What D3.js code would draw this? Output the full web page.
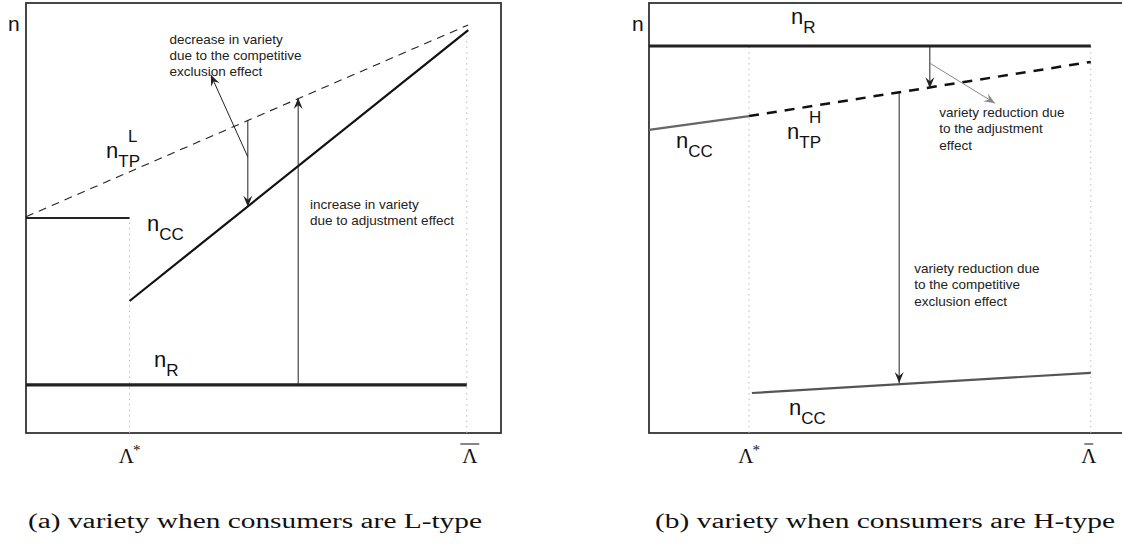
<!DOCTYPE html>
<html><head><meta charset="utf-8">
<script src="https://cdn.jsdelivr.net/npm/d3@7"></script>
<style>
html,body{margin:0;padding:0;background:#fff;}
svg{display:block;}
.ann{font-family:"Liberation Sans",Arial,sans-serif;font-size:13.5px;fill:#222;}
.lab{font-family:"Liberation Sans",Arial,sans-serif;fill:#111;}
.ser{font-family:"Liberation Serif","DejaVu Serif",serif;fill:#111;}
</style></head>
<body>
<svg id="c" width="1122" height="544"></svg>
<script>
// ---------- data (conceptual units) ----------
// Panel (a): L-type consumers
const xTicksA = ["Λ*", "Λ̄"];
const lambdaA = [21.8, 92.8];               // Λ*, Λbar
const nR_A = [[0, 11.2], [92.8, 11.2]];
const nTP_A = [[0, 50.3], [93.1, 94.9]];
const nCCflat_A = [[0, 50], [21.8, 50]];
const nCCrise_A = [[21.8, 30.7], [93.1, 93.7]];
const guideTopA = [50, 94];                // top of dotted guides
const arrowsA = [
  {from: [57.3, 11.2], to: [57.3, 77.9], color: "#222"},
  {from: [46.7, 72.8], to: [46.7, 52.6], color: "#222"},
  {from: [46.7, 64.2], to: [38.9, 83.3], color: "#222"}
];
const notesA = [
  {x: 30.2, y: 90.5, lines: ["decrease in variety", "due to the competitive", "exclusion effect"]},
  {x: 59.8, y: 52.1, lines: ["increase in variety", "due to adjustment effect"]}
];

// Panel (b): H-type consumers
const xTicksB = ["Λ*", "Λ̄"];
const lambdaB = [21.2, 93.6];
const nR_B = [[0, 90], [93.6, 90]];
const nTP_B = [[21.2, 73.7], [93.6, 86.3]];
const nCCup_B = [[0, 70.5], [21.2, 73.7]];
const nCClow_B = [[21.8, 9.3], [93.6, 14.0]];
const guideTopB = [90, 90];
const arrowsB = [
  {from: [59.5, 90], to: [59.5, 80.2], color: "#222"},
  {from: [59.5, 86.0], to: [73.3, 76.7], color: "#888"},
  {from: [53.0, 79.1], to: [53.0, 11.6], color: "#222"}
];
const notesB = [
  {x: 61.5, y: 73.5, lines: ["variety reduction due", "to the adjustment", "effect"]},
  {x: 56.2, y: 37.2, lines: ["variety reduction due", "to the competitive", "exclusion effect"]}
];
const captions = ["(a) variety when consumers are L-type", "(b) variety when consumers are H-type"];

// ---------- drawing ----------
const svg = d3.select("#c");
const defs = svg.append("defs");
function marker(id, color){
  defs.append("marker").attr("id", id).attr("viewBox", "-12 -6 14 12")
    .attr("refX", 0).attr("refY", 0).attr("markerWidth", 14).attr("markerHeight", 12)
    .attr("markerUnits", "userSpaceOnUse").attr("orient", "auto")
    .append("path").attr("d", "M0,0 L-11,-4.5 L-7,0 L-11,4.5 Z").attr("fill", color);
}
marker("ah222", "#222"); marker("ah888", "#888");

function panel(cfg){
  const x = d3.scaleLinear().domain([0, 100]).range([cfg.x0, cfg.x1]);
  const y = d3.scaleLinear().domain([0, 100]).range([433, 3]);
  const g = svg.append("g");
  const line = d3.line().x(d => x(d[0])).y(d => y(d[1]));
  // frame
  g.append("rect").attr("x", cfg.x0).attr("y", 3).attr("width", cfg.boxW).attr("height", 430)
    .attr("fill", "none").attr("stroke", "#333").attr("stroke-width", 1.8);
  // dotted guides
  cfg.lambda.forEach((v, i) => {
    g.append("line").attr("x1", x(v)).attr("x2", x(v)).attr("y1", y(0)).attr("y2", y(cfg.guideTop[i]))
      .attr("stroke", "#bbb").attr("stroke-width", 1).attr("stroke-dasharray", "1.5,4");
  });
  cfg.series.forEach(s => {
    g.append("path").attr("d", line(s.data)).attr("fill", "none").attr("stroke", s.color)
      .attr("stroke-width", s.w).attr("stroke-dasharray", s.dash || null);
  });
  cfg.arrows.forEach(a => {
    g.append("line").attr("x1", x(a.from[0])).attr("y1", y(a.from[1]))
      .attr("x2", x(a.to[0])).attr("y2", y(a.to[1]))
      .attr("stroke", a.color).attr("stroke-width", 1)
      .attr("marker-end", "url(#ah" + a.color.slice(1) + ")");
  });
  cfg.notes.forEach(n => {
    const t = g.append("text").attr("class", "ann").attr("x", x(n.x)).attr("y", y(n.y));
    n.lines.forEach((l, i) => t.append("tspan").attr("x", x(n.x)).attr("dy", i ? 16.3 : 0).text(l));
  });
  // axis tick labels Λ*, Λbar
  const tk = g.append("g");
  tk.append("text").attr("class", "ser").attr("x", x(cfg.lambda[0])).attr("y", 463)
    .attr("text-anchor", "middle").attr("font-size", 21)
    .text(cfg.ticks[0].slice(0,1)).append("tspan").attr("dy", -8).attr("dx", -1).attr("font-size", 15).text("*");
  tk.append("text").attr("class", "ser").attr("x", x(cfg.lambda[1]) + cfg.barDx).attr("y", 463)
    .attr("text-anchor", "middle").attr("font-size", 21).text("Λ");
  tk.append("line").attr("x1", x(cfg.lambda[1]) + cfg.barDx - cfg.barHalf).attr("x2", x(cfg.lambda[1]) + cfg.barDx + cfg.barHalf)
    .attr("y1", 444).attr("y2", 444).attr("stroke", "#111").attr("stroke-width", 1);
  // "n" axis label
  g.append("text").attr("class", "lab").attr("x", cfg.nx).attr("y", 31).attr("font-size", 21).text("n");
  // curve labels
  cfg.labels.forEach(l => {
    const t = g.append("text").attr("class", "lab").attr("x", l.x).attr("y", l.y).attr("font-size", 22);
    t.append("tspan").text("n");
    if (l.sup) {
      g.append("text").attr("class", "lab").attr("x", l.x + 22).attr("y", l.y - 16).attr("font-size", 17).text(l.sup);
    }
    t.append("tspan").attr("dy", 9).attr("font-size", 17).text(l.sub);
  });
  return {x, y};
}

panel({x0: 26, x1: 501, boxW: 475, lambda: lambdaA, guideTop: guideTopA, ticks: xTicksA,
  barDx: 3, barHalf: 9.5, nx: 8,
  series: [
    {data: nR_A, color: "#222", w: 3.2},
    {data: nTP_A, color: "#222", w: 1.1, dash: "8,6"},
    {data: nCCflat_A, color: "#222", w: 2},
    {data: nCCrise_A, color: "#111", w: 2.2}
  ],
  arrows: arrowsA, notes: notesA,
  labels: [
    {x: 106, y: 158, sub: "TP", sup: "L"},
    {x: 147, y: 231, sub: "CC"},
    {x: 154, y: 367, sub: "R"}
  ]
});

panel({x0: 649, x1: 1121, boxW: 480, lambda: lambdaB, guideTop: guideTopB, ticks: xTicksB,
  barDx: -2, barHalf: 4.5, nx: 632,
  series: [
    {data: nR_B, color: "#222", w: 3.2},
    {data: nTP_B, color: "#111", w: 2.5, dash: "10,8"},
    {data: nCCup_B, color: "#666", w: 2.2},
    {data: nCClow_B, color: "#555", w: 2.2}
  ],
  arrows: arrowsB, notes: notesB,
  labels: [
    {x: 791, y: 24, sub: "R"},
    {x: 676, y: 148, sub: "CC"},
    {x: 787, y: 139, sub: "TP", sup: "H"},
    {x: 789, y: 415, sub: "CC"}
  ]
});

// captions
svg.append("text").attr("class", "ser").attr("x", 28).attr("y", 528).attr("font-size", 20)
  .attr("textLength", 454).attr("lengthAdjust", "spacingAndGlyphs").text(captions[0]);
svg.append("text").attr("class", "ser").attr("x", 655).attr("y", 528).attr("font-size", 20)
  .attr("textLength", 460).attr("lengthAdjust", "spacingAndGlyphs").text(captions[1]);
</script>
</body></html>
